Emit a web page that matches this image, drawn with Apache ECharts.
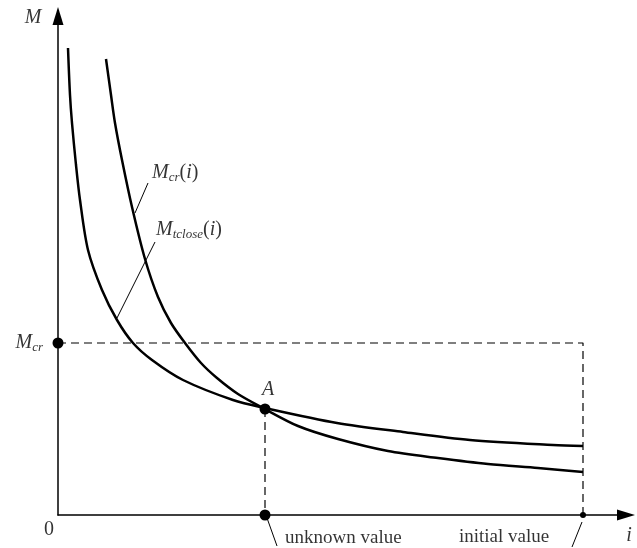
<!DOCTYPE html>
<html>
<head>
<meta charset="utf-8">
<script src="https://cdn.jsdelivr.net/npm/echarts@6/dist/echarts.min.js"></script>
<style>
  html, body { margin: 0; background: #fff; }
  #chart { width: 637px; height: 548px; }
</style>
</head>
<body>
<div id="chart"></div>
<script>
// values (units = px from the origin)
const tcloseCurve = [
  [10, 467], [12, 420], [14, 392], [18, 350], [22, 315], [30, 265], [44, 225],
  [59, 195], [75, 172], [94, 155], [125, 135], [175, 115], [207, 107],
  [279, 92], [345, 83], [412, 75], [495, 70], [525, 69]
];
const crCurve = [
  [48, 456], [53, 420], [57, 392], [64, 355], [74, 308], [87, 256], [100, 218],
  [113, 192], [127, 172], [143, 152], [159, 137], [180, 121], [205, 107],
  [240, 89], [280, 76], [330, 64], [380, 57], [430, 51], [480, 47], [525, 43]
];
const mcrLevel = 172;
const pointA = [207, 106];
const initialI = 525;

const serif = 'Liberation Serif';
const rich = {
  it: { fontFamily: serif, fontStyle: 'italic', fontSize: 20, color: '#000', lineHeight: 22 },
  up: { fontFamily: serif, fontSize: 20, color: '#000', lineHeight: 22 },
  sub: { fontFamily: serif, fontStyle: 'italic', fontSize: 13, color: '#000', lineHeight: 8, verticalAlign: 'bottom' },
  txt: { fontFamily: serif, fontSize: 19, color: '#000', lineHeight: 22 }
};

function textItem(value, text, align) {
  return {
    value,
    label: {
      show: true,
      position: [0, 0],
      align: align || 'center',
      verticalAlign: 'middle',
      color: '#000',
      textBorderWidth: 0,
      formatter: text,
      rich
    }
  };
}

const chart = echarts.init(document.getElementById('chart'));

const axisLine = {
  symbol: ['none', 'triangle'],
  symbolSize: [11, 18],
  lineStyle: { color: '#000', width: 1.5 }
};

chart.setOption({
  animation: false,
  grid: { left: 58, right: 11, top: 16, bottom: 33 },
  xAxis: {
    type: 'value', min: 0, max: 568,
    axisLine, axisTick: { show: false }, axisLabel: { show: false }, splitLine: { show: false }
  },
  yAxis: {
    type: 'value', min: 0, max: 499,
    axisLine, axisTick: { show: false }, axisLabel: { show: false }, splitLine: { show: false }
  },
  series: [
    {
      type: 'line', data: tcloseCurve, showSymbol: false, smooth: 0.3,
      lineStyle: { color: '#000', width: 2.5 }
    },
    {
      type: 'line', data: crCurve, showSymbol: false, smooth: 0.3,
      lineStyle: { color: '#000', width: 2.5 }
    },
    {
      // dashed guides
      type: 'line', showSymbol: false, connectNulls: false,
      data: [[0, mcrLevel], [initialI, mcrLevel], [initialI, 0], '-', [pointA[0], pointA[1]], [pointA[0], 0]],
      lineStyle: { color: '#000', width: 1.2, type: [8, 5] }
    },
    {
      // leader lines
      type: 'line', showSymbol: false, connectNulls: false, clip: false,
      data: [
        [90, 332], [77, 302], '-',
        [97, 273], [59, 197], '-',
        [209, -3], [219, -31], '-',
        [524, -7], [514, -32]
      ],
      lineStyle: { color: '#000', width: 1 }
    },
    {
      type: 'scatter', clip: false, z: 5,
      itemStyle: { color: '#000', opacity: 1 },
      data: [
        { value: [0, mcrLevel], symbolSize: 11 },
        { value: pointA, symbolSize: 11 },
        { value: [pointA[0], 0], symbolSize: 11 },
        { value: [initialI, 0], symbolSize: 6 }
      ]
    },
    {
      type: 'scatter', clip: false, symbolSize: 0, silent: true,
      data: [
        textItem([-25, 497], '{it|M}'),
        textItem([-15, mcrLevel], '{it|M}{sub|cr}', 'right'),
        textItem([-9, -15], '{up|0}'),
        textItem([210, 125], '{it|A}'),
        textItem([571, -21], '{it|i}'),
        textItem([227, -23], '{txt|unknown value}', 'left'),
        textItem([401, -22], '{txt|initial value}', 'left'),
        textItem([94, 342], '{it|M}{sub|cr}{up|(}{it|i}{up|)}', 'left'),
        textItem([98, 285], '{it|M}{sub|tclose}{up|(}{it|i}{up|)}', 'left')
      ]
    }
  ]
});
</script>
</body>
</html>
